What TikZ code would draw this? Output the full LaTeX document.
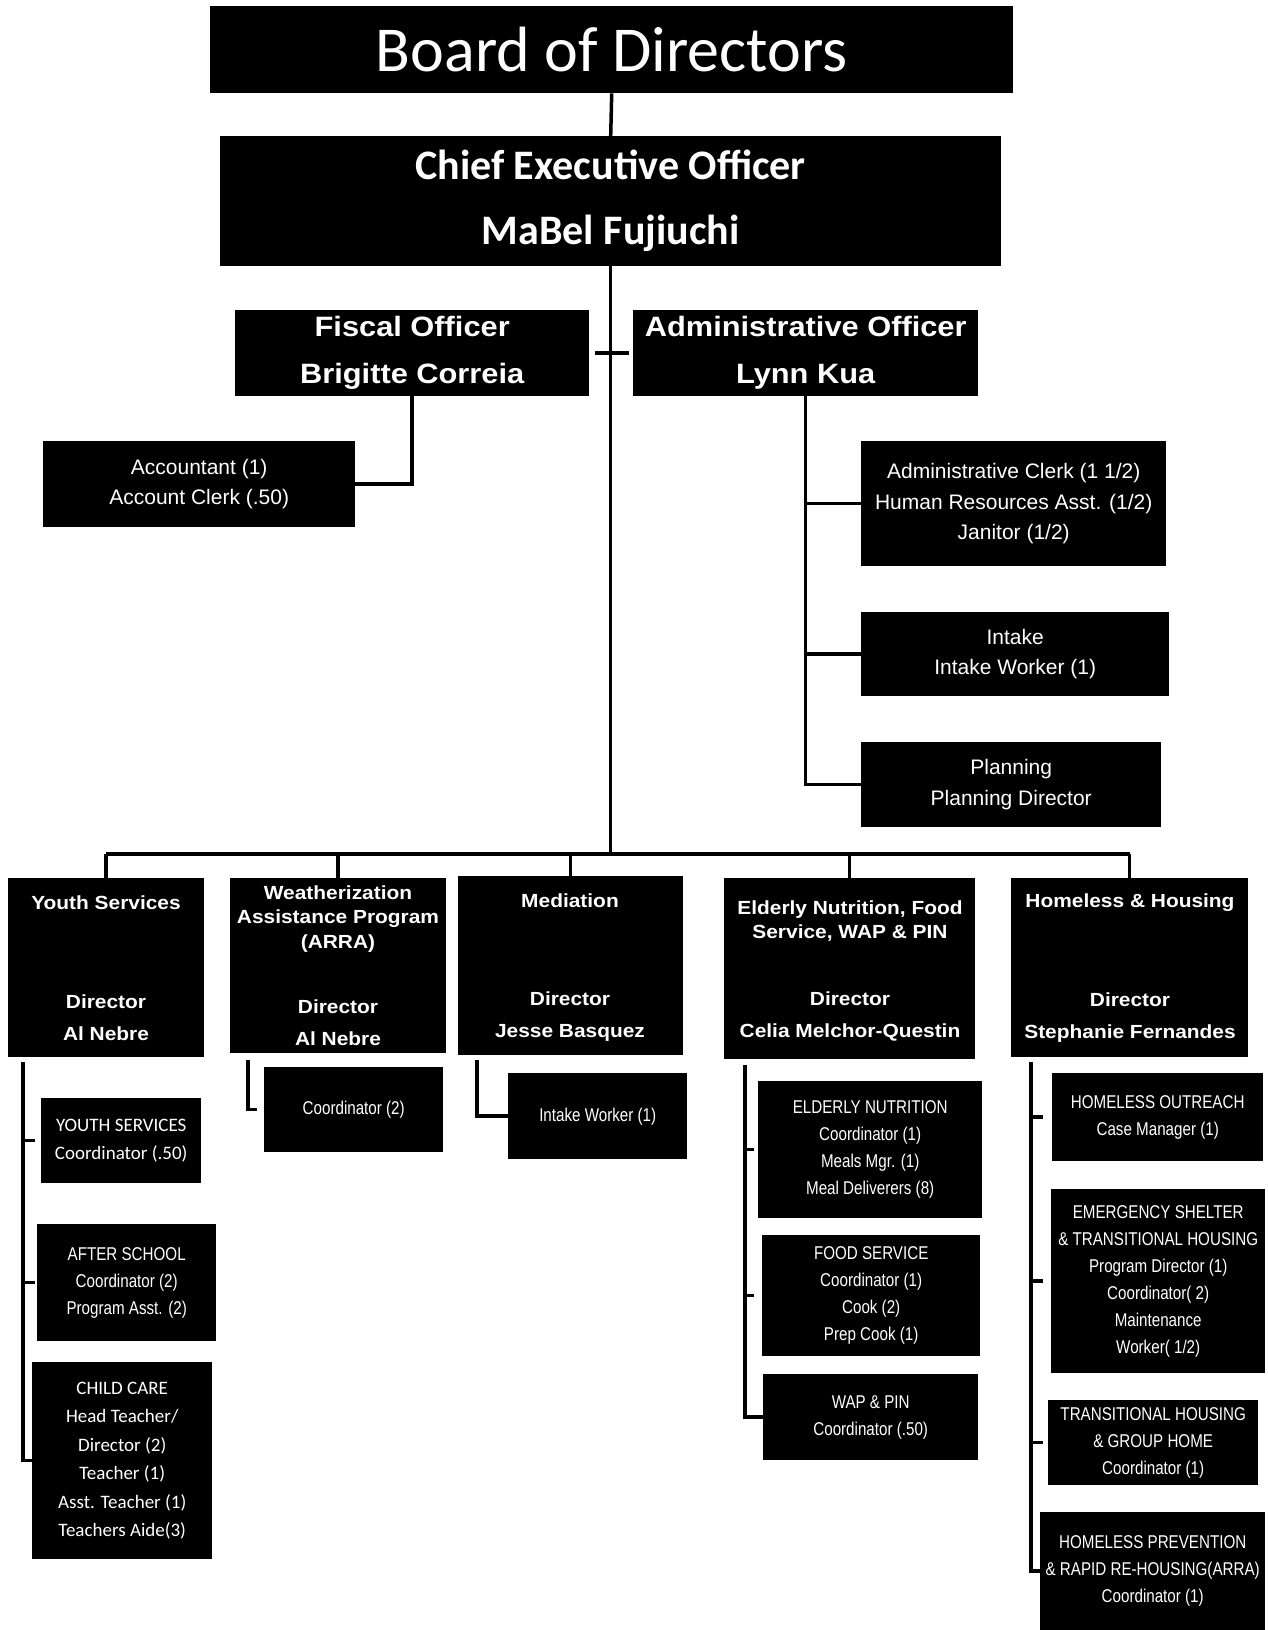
\documentclass[tikz,border=0pt]{standalone}
\usepackage{fontspec}
\setmainfont{Liberation Sans}
\newfontfamily\calfont{Carlito}
\newfontfamily\headfont[FakeStretch=1.1]{Liberation Sans}
\newfontfamily\narrowfont[FakeStretch=0.82]{Liberation Sans}

\tikzset{
	box/.style={fill=black, text=white, inner sep=0pt, anchor=north west, align=center},
	boxtext/.style={text=white, inner sep=0pt, align=center},
	officer/.style={box, font=\headfont\bfseries\fontsize{28}{47}\selectfont},
	staff/.style={box, font=\fontsize{21}{30.5}\selectfont},
	cal/.style={box, font=\calfont\fontsize{19}{28.5}\selectfont},
	narrow/.style={box, font=\narrowfont\fontsize{18.5}{27}\selectfont},
	dhead/.style={boxtext, font=\headfont\bfseries\fontsize{19}{24.5}\selectfont},
	dname/.style={boxtext, font=\headfont\bfseries\fontsize{19}{32}\selectfont},
	link/.style={line width=3.5pt},
	stub/.style={line width=3.5pt}
}

\begin{document}
\begin{tikzpicture}[x=1pt,y=-1pt]
	\useasboundingbox (0,0) rectangle (1267,1630);
	\fill[white] (0,0) rectangle (1267,1630);

	% top of the chart
	\node[box, minimum width=803, minimum height=87, font=\calfont\fontsize{64}{70}\selectfont] (board) at (210,6) {Board of Directors};
	\node[box, minimum width=781, minimum height=130, font=\calfont\bfseries\fontsize{42}{65}\selectfont] (ceo) at (220,136) {Chief Executive Officer\\MaBel Fujiuchi};
	\node[officer, minimum width=354, minimum height=86] (fiscal) at (235,310) {Fiscal Officer\\Brigitte Correia};
	\node[officer, minimum width=345, minimum height=86] (admin) at (633,310) {Administrative Officer\\Lynn Kua};

	\node[staff, minimum width=312, minimum height=86] (acct) at (43,441) {Accountant (1)\\Account Clerk (.50)};
	\node[staff, minimum width=305, minimum height=125] (clerk) at (861,441) {Administrative Clerk (1 1/2)\\Human Resources Asst. (1/2)\\Janitor (1/2)};
	\node[staff, minimum width=308, minimum height=84] (intake) at (861,612) {Intake\\Intake Worker (1)};
	\node[staff, minimum width=300, minimum height=85] (plan) at (861,742) {Planning\\Planning Director};

	\draw[link] (board.south) -- (ceo.north);
	\coordinate (bus) at (610,854);
	\draw[link] (ceo.south) -- (ceo.south |- bus);
	\draw[link, shorten <=6pt, shorten >=4pt] (fiscal.east) -- (admin.west);
	\draw[link] (fiscal.south) |- (acct.east);
	\draw[link] (admin.south) |- (plan.west);
	\draw[link] (admin.south |- clerk.west) -- (clerk.west);
	\draw[link] (admin.south |- intake.west) -- (intake.west);

	% programs
	\node[box, minimum width=196, minimum height=179] (ys) at (8,878) {};
	\node[dhead] (ys-h) at (106,903) {Youth Services};
	\node[dname] (ys-n) at (106,1018) {Director\\Al Nebre};

	\node[box, minimum width=216, minimum height=175] (wx) at (230,878) {};
	\node[dhead] (wx-h) at (338,919) {Weatherization\\Assistance Program\\(ARRA)};
	\node[dname] (wx-n) at (338,1023) {Director\\Al Nebre};

	\node[box, minimum width=225, minimum height=179] (med) at (458,876) {};
	\node[dhead] (med-h) at (570,901) {Mediation};
	\node[dname] (med-n) at (570,1017) {Director\\Jesse Basquez};

	\node[box, minimum width=251, minimum height=181] (eld) at (724,878) {};
	\node[dhead] (eld-h) at (850,921) {Elderly Nutrition, Food\\Service, WAP \& PIN};
	\node[dname] (eld-n) at (850,1016) {Director\\Celia Melchor-Questin};

	\node[box, minimum width=237, minimum height=179] (hh) at (1011,878) {};
	\node[dhead] (hh-h) at (1130,903) {Homeless \& Housing};
	\node[dname] (hh-n) at (1130,1018) {Director\\Stephanie Fernandes};

	\draw[link] (ys.north |- bus) -- (hh.north |- bus);
	\foreach \d in {ys,wx,med,eld,hh}
		\draw[link] (\d.north |- bus) -- (\d.north);

	% youth services
	\node[cal, minimum width=160, minimum height=85] (ys1) at (41,1098) {YOUTH SERVICES\\Coordinator (.50)};
	\node[narrow, minimum width=179, minimum height=117] (ys2) at (37,1224) {AFTER SCHOOL\\Coordinator (2)\\Program Asst. (2)};
	\node[cal, minimum width=180, minimum height=197] (ys3) at (32,1362) {CHILD CARE\\Head Teacher/\\Director (2)\\Teacher (1)\\Asst. Teacher (1)\\Teachers Aide(3)};
	\coordinate (ys-sp) at (23,1062);
	\draw[link] (ys-sp) -- (ys-sp |- ys3.west) -- ++(12,0);
	\draw[stub] (ys-sp |- ys1.west) -- ++(12,0);
	\draw[stub] (ys-sp |- ys2.west) -- ++(12,0);

	% weatherization and mediation
	\node[narrow, minimum width=179, minimum height=85] (wx1) at (264,1067) {Coordinator (2)};
	\coordinate (wx-sp) at (248,1060);
	\draw[link] (wx-sp) -- (wx-sp |- wx1.west) -- ++(9,0);
	\node[narrow, minimum width=179, minimum height=86] (med1) at (508,1073) {Intake Worker (1)};
	\coordinate (med-sp) at (477,1060);
	\draw[link] (med-sp) |- (med1.west);

	% elderly nutrition
	\node[narrow, minimum width=224, minimum height=137] (eld1) at (758,1081) {ELDERLY NUTRITION\\Coordinator (1)\\Meals Mgr. (1)\\Meal Deliverers (8)};
	\node[narrow, minimum width=218, minimum height=121] (eld2) at (762,1235) {FOOD SERVICE\\Coordinator (1)\\Cook (2)\\Prep Cook (1)};
	\node[narrow, minimum width=215, minimum height=86] (eld3) at (763,1374) {WAP \& PIN\\Coordinator (.50)};
	\coordinate (eld-sp) at (745,1065);
	\draw[link] (eld-sp) |- (eld3.west);
	\draw[stub] (eld-sp |- eld1.west) -- ++(9,0);
	\draw[stub] (eld-sp |- eld2.west) -- ++(9,0);

	% homeless and housing
	\node[narrow, minimum width=211, minimum height=88] (hh1) at (1052,1073) {HOMELESS OUTREACH\\Case Manager (1)};
	\node[narrow, minimum width=214, minimum height=184] (hh2) at (1051,1189) {EMERGENCY SHELTER\\\& TRANSITIONAL HOUSING\\Program Director (1)\\Coordinator( 2)\\Maintenance\\Worker( 1/2)};
	\node[narrow, minimum width=210, minimum height=85] (hh3) at (1048,1400) {TRANSITIONAL HOUSING\\\& GROUP HOME\\Coordinator (1)};
	\node[narrow, minimum width=225, minimum height=118] (hh4) at (1040,1512) {HOMELESS PREVENTION\\\& RAPID RE-HOUSING(ARRA)\\Coordinator (1)};
	\coordinate (hh-sp) at (1031,1062);
	\draw[link] (hh-sp) -- (hh-sp |- hh4.west) -- ++(10,0);
	\foreach \c in {hh1,hh2,hh3}
		\draw[stub] (hh-sp |- \c.west) -- ++(12,0);
\end{tikzpicture}
\end{document}
